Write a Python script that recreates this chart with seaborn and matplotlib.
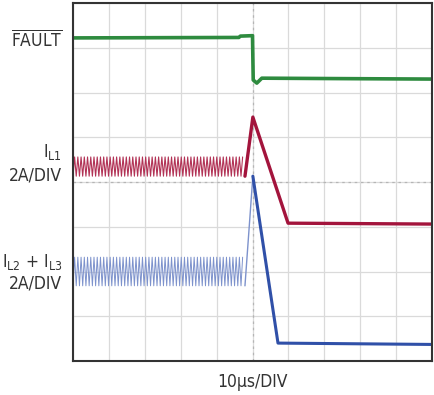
import numpy as np
import pandas as pd
import seaborn as sns
from matplotlib import pyplot as plt

# Divisiones del osciloscopio (10 horizontales x 8 verticales)
n_div_x = 10
n_div_y = 8

# FAULT (verde)
fault_t = [0.0, 4.62, 4.66, 5.00, 5.02, 5.12, 5.26, 7.50, 10.0]
fault_v = [7.22, 7.23, 7.26, 7.27, 6.28, 6.21, 6.32, 6.31, 6.30]

# Rizado de conmutación antes de la falla (un ciclo = [valle, pico])
ripple_period = 0.09
ripple_cycles = 53
il1_cycle = [4.13, 4.56]
il23_cycle = [1.68, 2.32]

# I_L1 después de la falla (rojo)
il1_t = [4.79, 5.01, 5.99, 10.0]
il1_v = [4.13, 5.45, 3.08, 3.06]

# I_L2 + I_L3 después de la falla (azul)
il23_t = [4.79, 5.01, 5.71, 10.0]
il23_v = [1.68, 4.13, 0.40, 0.37]

verde = '#2e8b3f'
rojo = '#a3143c'
rojo_claro = '#b23356'
azul = '#3050a8'
azul_claro = '#7d92cc'

# Tabla del rizado
ripple_t = np.arange(2 * ripple_cycles) * ripple_period / 2
df_ripple = pd.DataFrame({
    't': ripple_t,
    'il1': np.tile(il1_cycle, ripple_cycles),
    'il23': np.tile(il23_cycle, ripple_cycles),
})

sns.set_style('white')
plt.rcParams['font.family'] = ['DejaVu Sans']
plt.rcParams['font.stretch'] = 'condensed'
plt.rcParams['mathtext.fontset'] = 'custom'
plt.rcParams['mathtext.rm'] = 'DejaVu Sans:stretch=condensed'
plt.rcParams['mathtext.it'] = 'DejaVu Sans:stretch=condensed'

fig = plt.figure(figsize=(4.35, 3.95), dpi=100)
ax = fig.add_axes([73 / 435, 1 - 361 / 395, 359 / 435, 358 / 395])

# Malla
ax.set_xlim(0, n_div_x)
ax.set_ylim(0, n_div_y)
ax.set_xticks(range(n_div_x + 1))
ax.set_yticks(range(n_div_y + 1))
ax.grid(True, color='#dadada', lw=0.9)
ax.tick_params(length=0, labelbottom=False, labelleft=False)
ax.axvline(n_div_x / 2, color='#b5b5b5', lw=0.9, ls=(0, (2, 3)))
ax.axhline(n_div_y / 2, color='#b5b5b5', lw=0.9, ls=(0, (2, 3)))
for s in ax.spines.values():
    s.set_color('#333333')
    s.set_linewidth(1.5)

# Trazas
sns.lineplot(x=fault_t, y=fault_v, color=verde, lw=2.6, ax=ax, sort=False)
sns.lineplot(data=df_ripple, x='t', y='il1', color=rojo_claro, lw=0.8, ax=ax, sort=False)
sns.lineplot(x=il1_t, y=il1_v, color=rojo, lw=2.4, ax=ax, sort=False)
sns.lineplot(data=df_ripple, x='t', y='il23', color=azul_claro, lw=0.7, ax=ax, sort=False)
sns.lineplot(x=il23_t[:2], y=il23_v[:2], color=azul_claro, lw=1.0, ax=ax, sort=False)
sns.lineplot(x=il23_t[1:], y=il23_v[1:], color=azul, lw=2.2, ax=ax, sort=False)

# Etiquetas
fs = 12.5
txt = '#333333'
fig.text(62 / 435, 1 - 40 / 395, r'$\overline{\mathrm{FAULT}}$', ha='right', va='center',
         fontsize=fs, color=txt)
fig.text(62 / 435, 1 - 152 / 395, r'I$_{\mathrm{L1}}$', ha='right', va='center',
         fontsize=fs, color=txt)
fig.text(62 / 435, 1 - 176 / 395, '2A/DIV', ha='right', va='center', fontsize=fs, color=txt)
fig.text(62 / 435, 1 - 262 / 395, r'I$_{\mathrm{L2}}$ + I$_{\mathrm{L3}}$', ha='right',
         va='center', fontsize=fs, color=txt)
fig.text(62 / 435, 1 - 284 / 395, '2A/DIV', ha='right', va='center', fontsize=fs, color=txt)
fig.text(253 / 435, 1 - 382 / 395, '10µs/DIV', ha='center', va='center', fontsize=fs, color=txt)

fig.savefig('out.png', dpi=100)
